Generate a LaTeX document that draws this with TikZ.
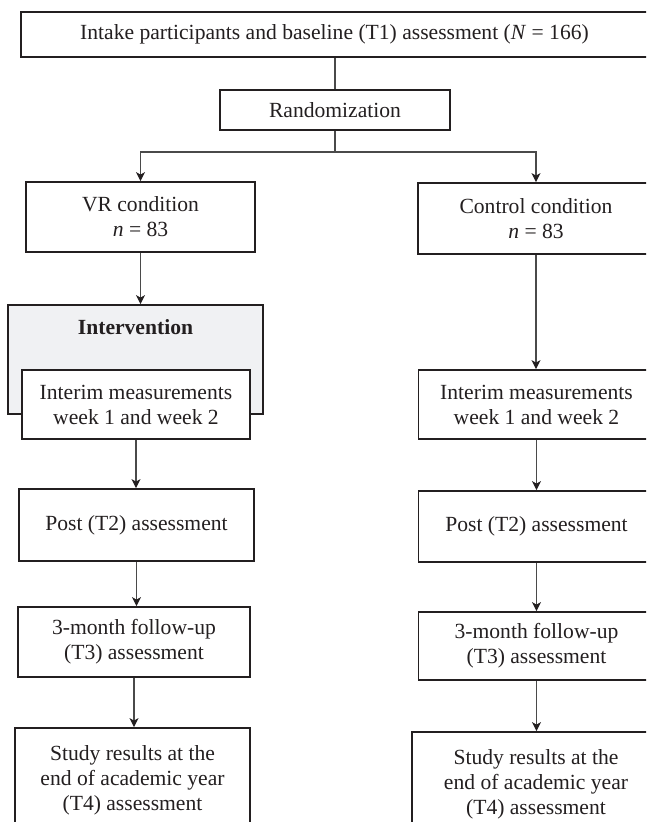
\documentclass[tikz,border=0pt]{standalone}
\usepackage{fontspec}
\setmainfont{Liberation Serif}
\usetikzlibrary{arrows.meta}
\definecolor{ink}{HTML}{231F20}
\definecolor{lineC}{HTML}{4A4A4A}
\definecolor{intfill}{HTML}{F0F1F3}
\begin{document}
\begin{tikzpicture}[x=1pt,y=-1pt,
  box/.style={draw=ink, line width=1.8pt, fill=white, inner sep=0pt, align=center, text=ink, font=\fontsize{21.6}{25}\selectfont},
  conn/.style={draw=lineC, line width=1.1pt},
  arr/.style={conn, -{Stealth[length=9pt,width=9pt,inset=2.5pt,color=ink]}},
]
\useasboundingbox (0,0) rectangle (646,822);
\clip (0,0) rectangle (646,822);
\fill[white] (0,0) rectangle (646,822);

\node[box, minimum width=627pt, minimum height=45pt] (intake) at (334.5,34.5) {Intake participants and baseline (T1) assessment (\textit{N}~=~166)};
\node[box, minimum width=230pt, minimum height=40pt] (rand) at (335,110) {Randomization};
\node[box, minimum width=229pt, minimum height=70pt] (vr) at (140.5,217) {VR condition\\\textit{n}~=~83};
\node[box, minimum width=236pt, minimum height=71pt] (ctrl) at (536,218.5) {Control condition\\\textit{n}~=~83};
\node[box, fill=intfill, minimum width=255pt, minimum height=109pt] (interv) at (135.5,359.5) {};
\node[font=\bfseries\fontsize{21.6}{25}\selectfont, text=ink] (intlabel) at (135.5,327) {Intervention};
\node[box, minimum width=228pt, minimum height=69pt] (imL) at (136,404.5) {Interim measurements\\week 1 and week 2};
\node[box, minimum width=236pt, minimum height=69pt] (imR) at (536.5,404.5) {Interim measurements\\week 1 and week 2};
\node[box, minimum width=235pt, minimum height=72pt] (postL) at (136.5,525) {Post (T2) assessment};
\node[box, minimum width=236pt, minimum height=71pt] (postR) at (536.5,526.5) {Post (T2) assessment};
\node[box, minimum width=232pt, minimum height=70pt] (fuL) at (134,642) {3-month follow-up\\(T3) assessment};
\node[box, minimum width=236pt, minimum height=68pt] (fuR) at (536.5,646) {3-month follow-up\\(T3) assessment};
\node[box, minimum width=235pt, minimum height=104pt] (stL) at (132.5,780) {Study results at the\\end of academic year\\(T4) assessment};
\node[box, minimum width=248pt, minimum height=104pt] (stR) at (536,784) {Study results at the\\end of academic year\\(T4) assessment};

\coordinate (split) at (335,152);
\draw[conn] (intake.south -| rand.north) -- (rand.north);
\draw[arr] (rand.south) -- (split) -| (vr.north);
\draw[arr] (split) -| (ctrl.north);
\draw[arr] (vr.south) -- (vr.south |- interv.north);
\draw[arr] (ctrl.south) -- (ctrl.south |- imR.north);
\draw[arr] (imL.south) -- (imL.south |- postL.north);
\draw[arr] (imR.south) -- (imR.south |- postR.north);
\draw[arr] (postL.south) -- (postL.south |- fuL.north);
\draw[arr] (postR.south) -- (postR.south |- fuR.north);
\draw[arr] (fuL.south) -- (fuL.south |- stL.north);
\draw[arr] (fuR.south) -- (fuR.south |- stR.north);
\end{tikzpicture}
\end{document}
